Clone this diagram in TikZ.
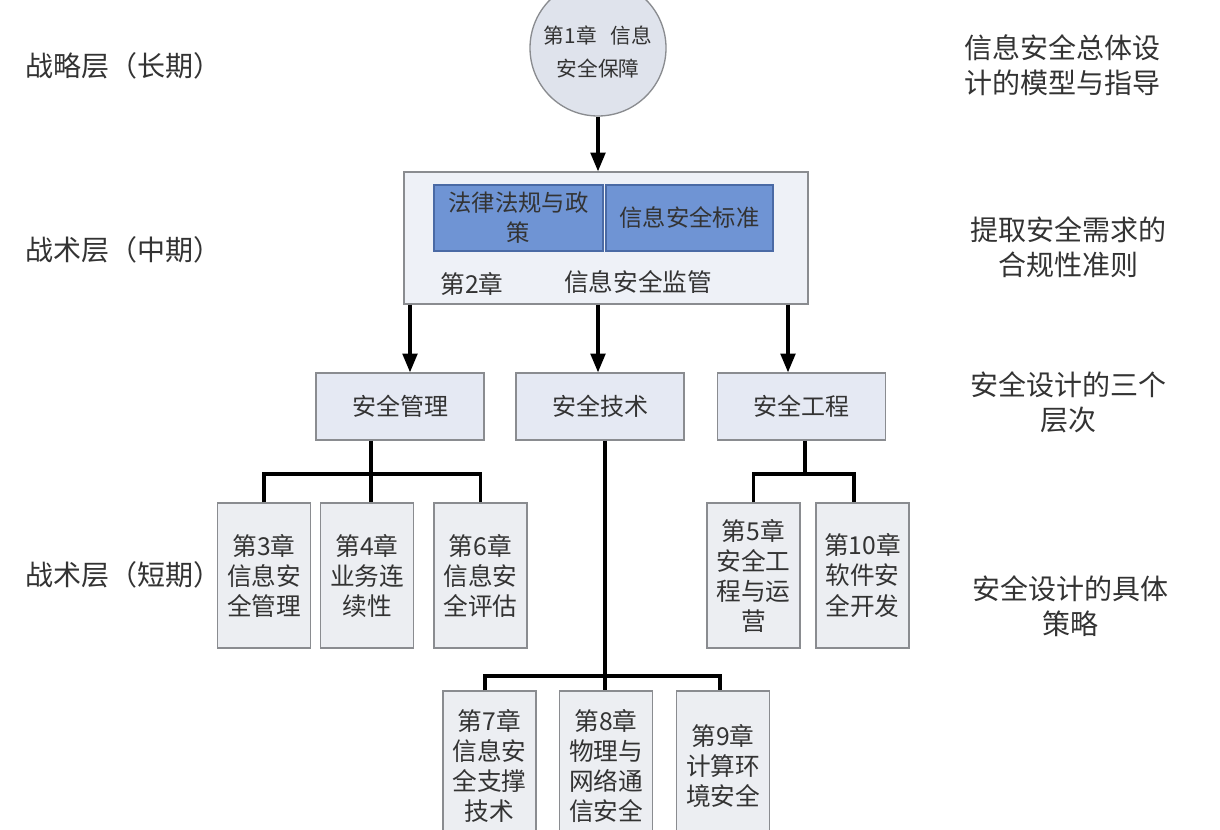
\documentclass[tikz,border=0pt]{standalone}
\usepackage{fontspec}
\setmainfont{Noto Sans CJK SC}
\usetikzlibrary{arrows.meta,positioning,calc}
\definecolor{circfill}{HTML}{DFE3EC}
\definecolor{supfill}{HTML}{EEF1F7}
\definecolor{bluefill}{HTML}{6F94D4}
\definecolor{blueline}{HTML}{4A6AA5}
\definecolor{lvlfill}{HTML}{E5E9F3}
\definecolor{chfill}{HTML}{ECEEF2}
\definecolor{boxline}{HTML}{8A8C90}
\definecolor{txt}{HTML}{333333}
\begin{document}
\begin{tikzpicture}[x=0.75pt,y=-0.75pt,
  conn/.style={line width=2.3pt,black},
  arr/.style={conn,-{Triangle[width=11pt,length=14pt]}},
  circbox/.style={circle,draw=boxline,line width=1pt,fill=circfill,minimum size={136*0.75pt},inner sep=0pt},
  circtext/.style={inner sep=0pt,align=center,font=\fontsize{15.5}{25}\selectfont,text=txt},
  supbox/.style={rectangle,draw=boxline,line width=1pt,fill=supfill,minimum width={404*0.75pt},minimum height={132*0.75pt},inner sep=0pt},
  bluebox/.style={rectangle,draw=blueline,line width=0.8pt,fill=bluefill,minimum height={66*0.75pt},inner sep=0pt,align=center,font=\fontsize{17.5}{22.5}\selectfont,text=txt},
  lvlbox/.style={rectangle,draw=boxline,line width=1pt,fill=lvlfill,minimum width={168*0.75pt},minimum height={67*0.75pt},inner sep=0pt,font=\fontsize{18}{22}\selectfont,text=txt},
  chbox/.style={rectangle,draw=boxline,line width=1pt,fill=chfill,minimum width={93*0.75pt},minimum height={145*0.75pt},inner sep=0pt,align=center,font=\fontsize{18.5}{22.5}\selectfont,text=txt},
  sidelbl/.style={font=\fontsize{21}{26}\selectfont,text=txt,inner sep=0pt},
  rightlbl/.style={font=\fontsize{21}{26}\selectfont,text=txt,inner sep=0pt,align=center},
  plain/.style={inner sep=0pt,font=\fontsize{18.5}{22}\selectfont,text=txt}
]
\useasboundingbox (0,0) rectangle (1220,830);
\clip (0,0) rectangle (1220,830);
\fill[white] (0,0) rectangle (1220,830);

% side labels
\node[sidelbl,anchor=west] (l1) at (25,66) {战略层（长期）};
\node[sidelbl,anchor=west] (l2) at (25,250) {战术层（中期）};
\node[sidelbl,anchor=west] (l3) at (25,575) {战术层（短期）};
\node[rightlbl] (r1) at (1062,65) {信息安全总体设\\计的模型与指导};
\node[rightlbl] (r2) at (1068,247) {提取安全需求的\\合规性准则};
\node[rightlbl] (r3) at (1068,402) {安全设计的三个\\层次};
\node[rightlbl] (r4) at (1070,606) {安全设计的具体\\策略};

% top circle
\node[circbox] (circ) at (598,48) {};
\node[circtext] (circt) at (598,52) {第1章\ \ \ 信息\\安全保障};

% supervision box
\node[supbox] (supv) at (606,238) {};
\node[bluebox,minimum width={169*0.75pt}] (law) at (518.5,218) {法律法规与政\\策};
\node[bluebox,minimum width={167*0.75pt}] (std) at (689.5,218) {信息安全标准};
\node[plain] (ch2) at (472,284) {第2章};
\node[plain] (supt) at (638,282) {信息安全监管};

% level boxes
\node[lvlbox] (mgmt) at (400,406.5) {安全管理};
\node[lvlbox] (tech) at (600,406.5) {安全技术};
\node[lvlbox] (eng) at (801.5,406.5) {安全工程};

% chapter boxes
\node[chbox] (c3) at (264,575.5) {第3章\\信息安\\全管理};
\node[chbox] (c4) at (367,575.5) {第4章\\业务连\\续性};
\node[chbox] (c6) at (480.5,575.5) {第6章\\信息安\\全评估};
\node[chbox] (c5) at (753.5,575.5) {第5章\\安全工\\程与运\\营};
\node[chbox] (c10) at (862.5,575.5) {第10章\\软件安\\全开发};
\node[chbox,minimum height={150*0.75pt}] (c7) at (489.5,766) {第7章\\信息安\\全支撑\\技术};
\node[chbox,minimum height={150*0.75pt}] (c8) at (606,766) {第8章\\物理与\\网络通\\信安全};
\node[chbox,minimum height={150*0.75pt}] (c9) at (723,766) {第9章\\计算环\\境安全};

% arrows
\coordinate (a1) at (410,0);
\coordinate (a2) at (598,0);
\coordinate (a3) at (788,0);
\draw[arr] (circ.south) -- (circ.south |- supv.north);
\draw[arr] (supv.south -| a1) -- (mgmt.north -| a1);
\draw[arr] (supv.south -| a2) -- (tech.north -| a2);
\draw[arr] (supv.south -| a3) -- (eng.north -| a3);

% management tree
\coordinate (bm) at (371,474);
\draw[conn] (bm |- mgmt.south) -- (bm |- c4.north);
\draw[conn] (c3.north) |- (bm) -| (c6.north);

% engineering tree
\coordinate (be) at (805,474);
\coordinate (c10x) at (854,0);
\draw[conn] (be |- eng.south) -- (be);
\draw[conn] (c5.north) |- (be) -| (c10x |- c10.north);

% technology tree
\coordinate (bt) at (605,676);
\coordinate (c7x) at (485,0);
\coordinate (c9x) at (720,0);
\draw[conn] (bt |- tech.south) -- (bt |- c8.north);
\draw[conn] (c7x |- c7.north) |- (bt) -| (c9x |- c9.north);
\end{tikzpicture}
\end{document}
